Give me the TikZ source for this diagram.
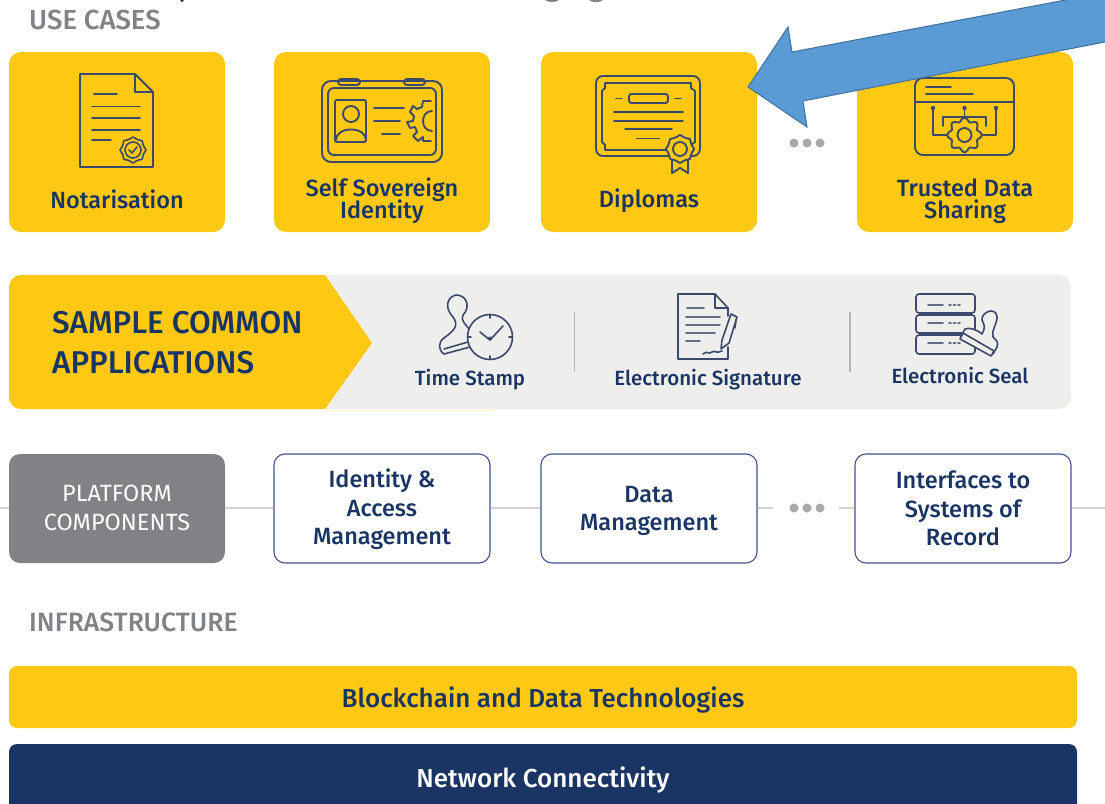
\documentclass[tikz,border=0pt]{standalone}
\usepackage{fontspec}
\setmainfont{Fira Sans}[BoldFont={Fira Sans Medium}]
\usetikzlibrary{calc}
\definecolor{ecy}{HTML}{FFC913}
\definecolor{ecn}{HTML}{1A3563}
\definecolor{icn}{HTML}{3B4A6B}
\definecolor{ecg}{HTML}{808285}
\definecolor{band}{HTML}{EEEEED}
\definecolor{wire}{HTML}{D4D4D4}
\definecolor{dotc}{HTML}{A9A9A9}
\definecolor{edgec}{HTML}{45508A}
\definecolor{arrf}{HTML}{5B9BD5}
\definecolor{arre}{HTML}{41719C}
\newcommand{\fixedlines}{\lineskiplimit=-100pt\relax}
\tikzset{
 x=1pt,y=-1pt,
 usecase/.style={fill=ecy,rounded corners=12pt,minimum width=216pt,minimum height=180pt,inner sep=0pt},
 compbox/.style={draw=edgec,line width=1.1pt,fill=white,rounded corners=11pt,minimum width=216pt,minimum height=109pt,inner sep=0pt},
 complab/.style={align=center,text=ecn,inner sep=0pt,font=\fontsize{23.5}{28.5}\selectfont\bfseries\fixedlines},
 bar/.style={rounded corners=8pt,minimum width=1068pt,inner sep=0pt},
 barlab/.style={inner sep=0pt,font=\fontsize{26}{28}\selectfont\bfseries},
 lab/.style={align=center,text=ecn,inner sep=0pt,font=\fontsize{23.5}{22}\selectfont\bfseries\fixedlines},
 applab/.style={align=center,text=ecn,inner sep=0pt,font=\fontsize{20.5}{22}\selectfont\bfseries},
 head/.style={text=ecg,inner sep=0pt,anchor=west,font=\fontsize{26.5}{26}\selectfont\bfseries},
 ico/.style={draw=icn,line width=1.9pt,line cap=round,line join=round},
 icf/.style={draw=icn,line width=1.6pt,line cap=round,line join=round},
 gdot/.style={circle,fill=dotc,minimum size=9pt,inner sep=0pt},
 wireline/.style={draw=wire,line width=1.8pt},
 divline/.style={draw=ecg!60,line width=1.8pt}
}
\begin{document}
\begin{tikzpicture}
\useasboundingbox (0,0) rectangle (1105,803);
\clip (0,0) rectangle (1105,803);
\fill[white] (0,0) rectangle (1105,803);

% clipped remains of a line above the picture
\fill[ecg] (552,-1) ellipse (7 and 3) (596,-1) ellipse (7 and 3);
\fill[ecn] (182,-1) ellipse (2 and 3);

% headings
\node[head,font=\fontsize{27.5}{26}\selectfont\bfseries] (hUse) at (29,20) {USE CASES};
\node[head] (hInf) at (29,622) {INFRASTRUCTURE};

% use cases
\node[usecase] (uNot) at (117,142) {};
\node[usecase] (uSsi) at (382,142) {};
\node[usecase] (uDip) at (649,142) {};
\node[usecase] (uTru) at (965,142) {};
\node[lab] (lNot) at (117,199) {Notarisation};
\node[lab] (lSsi) at (382,201) {Self Sovereign\\Identity};
\node[lab] (lDip) at (649,201) {Diplomas};
\node[lab] (lTru) at (965,201) {Trusted Data\\Sharing};
\node[gdot] (d1) at (794,143) {};
\node[gdot] (d2) at (807,143) {};
\node[gdot] (d3) at (820,143) {};

% notarisation icon
\draw[ico] (80,74) -- (135,74) -- (153,92) -- (153,167) -- (80,167) -- cycle;
\draw[ico] (135,74) -- (135,92) -- (153,92);
\draw[ico] (94,94)--(117,94) (92,106.5)--(140,106.5) (92,118)--(140,118) (92,130)--(140,130) (92,140)--(111,140);
\draw[icf] (133,150) circle (8);
\draw[icf] plot[smooth cycle,samples=24,domain=0:345] ({133+(12+1*cos(8*\x))*cos(\x)},{150+(12+1*cos(8*\x))*sin(\x)});
\draw[icf] (129,150)--(132,153)--(137,147);

% SSI icon
\draw[ico,fill=ecy,rounded corners=3pt] (338,79) rectangle (360,85);
\draw[ico,fill=ecy,rounded corners=3pt] (404,79) rectangle (425,85);
\draw[ico,rounded corners=9pt] (322,81) rectangle (442,162);
\draw[ico,rounded corners=6pt] (328,88) rectangle (436,155);
\draw[ico,rounded corners=2pt] (335,100) rectangle (366,142);
\draw[ico] (351,114) circle (8);
\draw[ico] (336,140) .. controls (336,126) and (366,126) .. (366,140);
\draw[ico] (374,108)--(404,108) (374,121)--(400,121) (382,134)--(400,134);
\draw[ico] (432,111) .. controls (420,111) and (420,131) .. (432,131);
\draw[ico] (431,101)--(423,101)--(422,107)--(417,109)--(413,106)--(410,112)--(414,116)--(413,121)--(407,122)--(410,128)--(415,127)--(417,132)--(413,136)--(418,141)--(423,137)--(423,141)--(431,141);

% diploma icon
\draw[ico,rounded corners=7pt] (596,76) rectangle (700,156);
\draw[ico] (605,83) -- (691,83) -- (691,88) -- (695,91) -- (695,142) -- (691,145) -- (691,150) -- (605,150) -- (605,145) -- (602,142) -- (602,91) -- (605,88) -- cycle;
\draw[ico,rounded corners=2.5pt] (629,94) rectangle (668,103);
\draw[ico] (616,98.5)--(622,98.5) (675,98.5)--(681,98.5);
\draw[ico] (614,112)--(683,112) (614,121)--(683,121) (625,129)--(672,129) (637,138.5)--(659,138.5);
\draw[ico,fill=ecy] (672,158)--(672,173)--(680,168)--(688,173)--(688,158);
\draw[ico,fill=ecy] plot[smooth cycle,samples=24,domain=0:345] ({680+(13+1*cos(8*\x))*cos(\x)},{149+(13+1*cos(8*\x))*sin(\x)});
\draw[ico] (680,149) circle (7);

% trusted data icon
\draw[ico,rounded corners=8pt] (915,78) rectangle (1014,155);
\draw[ico] (915,102)--(1014,102) (926,87)--(951,87) (926,94)--(973,94);
\fill[icn] (933,108) circle (2.2) (964.5,108) circle (2.2) (996,108) circle (2.2);
\draw[ico] (933,108)--(933,135)--(947,135) (996,108)--(996,135)--(982,135);
\draw[ico] (964.5,108)--(964.5,118) (943,126)--(943,117)--(986,117)--(986,126);
\draw[ico,fill=ecy] plot[smooth cycle,samples=32,domain=0:348.75] ({964.5+(15.5+2*sign(cos(8*\x)))*cos(\x)},{135+(15.5+2*sign(cos(8*\x)))*sin(\x)});
\draw[ico] (964.5,135) circle (7);

% common applications band
\node[fill=band,rounded corners=12pt,minimum width=1062pt,minimum height=134pt,inner sep=0pt] (bandBox) at (540,342) {};
\fill[ecy,rounded corners=12pt] (9,340) -- (9,275) -- (200,275) [sharp corners] -- (325,275) -- (372,343) -- (325,409) [rounded corners=12pt] -- (9,409) -- cycle;
\draw[ecy!25,line width=1pt] (325,410)--(492,410);
\node[anchor=west,align=left,text=ecn,inner sep=0pt,font=\fontsize{31.5}{40}\selectfont\bfseries] (lSample) at (52,343) {SAMPLE COMMON\\APPLICATIONS};
\node[applab] (lTime) at (470,380) {Time Stamp};
\node[applab] (lSig) at (708,380) {Electronic Signature};
\node[applab] (lSeal) at (960,375) {Electronic Seal};
\coordinate (v1a) at (574.5,312); \coordinate (v1b) at (574.5,372);
\coordinate (v2a) at (850,312); \coordinate (v2b) at (850,372);
\draw[divline] (v1a)--(v1b);
\draw[divline] (v2a)--(v2b);

% time stamp icon
\draw[icf] (444,338) .. controls (455,330) and (459,325) .. (453,317) .. controls (442,305) and (450,295) .. (457,295) .. controls (468,296) and (470,308) .. (463,315) .. controls (460,320) and (466,325) .. (470,330);
\draw[icf] (444,338) .. controls (438,342) and (438,350) .. (444,354) -- (470,347);
\draw[icf] (444,349) -- (468,342);
\draw[icf,fill=band] (490,337) circle (22.5);
\draw[icf] (480,332)--(490,340)--(503,326);
\fill[icn] (490,338.5) circle (2);
\draw[icf] (490,315)--(490,318) (490,356)--(490,359) (468,337)--(471,337) (509,337)--(512,337);

% signature icon
\draw[icf] (715,294)--(678,294)--(678,359)--(728,359)--(728,347);
\draw[icf] (728,308)--(728,316);
\draw[icf] (715,294)--(728,308)--(715,308)--cycle;
\draw[ico,draw=icn!80] (687,308)--(704,308) (686,317)--(720,317) (686,325)--(720,325) (686,333)--(715,333) (686,341)--(700,341);
\draw[icf,fill=band] (731,314)--(737,317)--(729,343)--(721,349)--(722,340)--cycle;
\draw[icf] (736,320)--(735,328);
\draw[icf] (703,354) .. controls (708,350) and (708,355) .. (712,352) .. controls (715,350) and (716,354) .. (722,351);

% seal icon
\draw[icf,rounded corners=3pt] (916,294) rectangle (975,313);
\draw[icf,rounded corners=3pt] (916,315) rectangle (975,333);
\draw[icf,rounded corners=3pt] (916,335) rectangle (975,354);
\draw[ico,draw=icn!80] (928,305)--(943,305) (928,323)--(943,323) (928,343)--(943,343);
\draw[icf,draw=icn!80,dash pattern=on 2pt off 2.5pt] (949,305)--(962,305) (949,323)--(962,323) (949,343)--(962,343);
\draw[icf,fill=band] (982,334) .. controls (986,326) and (984,325) .. (982,320) .. controls (981,312) and (996,306) .. (997,317) .. controls (997,325) and (991,330) .. (993,337) .. controls (996,340) and (999,342) .. (997,347) -- (993,354) -- (961,336) -- (965,329) .. controls (969,327) and (978,330) .. (982,334);
\draw[icf,fill=band] (960,339) -- (991,356) -- (994,351) -- (963,333) -- cycle;

% platform components
\coordinate (wL) at (0,508);
\coordinate (wR) at (1105,508);
\node[fill=ecg,rounded corners=11pt,minimum width=216pt,minimum height=109pt,inner sep=0pt] (pc) at (117,508.5) {};
\node[compbox] (c1) at (382,508.5) {};
\node[compbox] (c2) at (649,508.5) {};
\node[compbox] (c3) at (963,508.5) {};
\node[complab,text=white,font=\fontsize{23.5}{29}\selectfont\fixedlines] (lpc) at (117,507.5) {PLATFORM\\COMPONENTS};
\node[complab] (lc1) at (382,509.5) {Identity \&\\Access\\Management};
\node[complab] (lc2) at (649,511) {Data\\Management};
\node[complab] (lc3) at (963,508.5) {Interfaces to\\Systems of\\Record};
\node[gdot] (e1) at (794,508) {};
\node[gdot] (e2) at (807,508) {};
\node[gdot] (e3) at (820,508) {};
\draw[wireline] (wL)--(pc.west|-wL);
\draw[wireline] (pc.east|-wL)--(c1.west|-wL);
\draw[wireline] (c1.east|-wL)--(c2.west|-wL);
\draw[wireline] (c2.east|-wL)--++(15,0);
\draw[wireline] (c3.west|-wL)--++(-15,0);
\draw[wireline] (c3.east|-wL)--(wR);

% infrastructure bars
\node[bar,fill=ecy,minimum height=62pt] (bBlock) at (543,697) {};
\node[barlab,text=ecn] (lBlock) at (543,700) {Blockchain and Data Technologies};
\node[bar,fill=ecn,minimum height=80pt] (bNet) at (543,784) {};
\node[barlab,text=white] (lNet) at (543,780) {Network Connectivity};

% blue arrow
\draw[fill=arrf,draw=arre,line width=1pt,line join=miter] (748,87) -- (788,27) -- (792,52) -- (1097,-6) -- (1120,-6) -- (1120,39) -- (803,101) -- (807,127) -- cycle;
\end{tikzpicture}
\end{document}
